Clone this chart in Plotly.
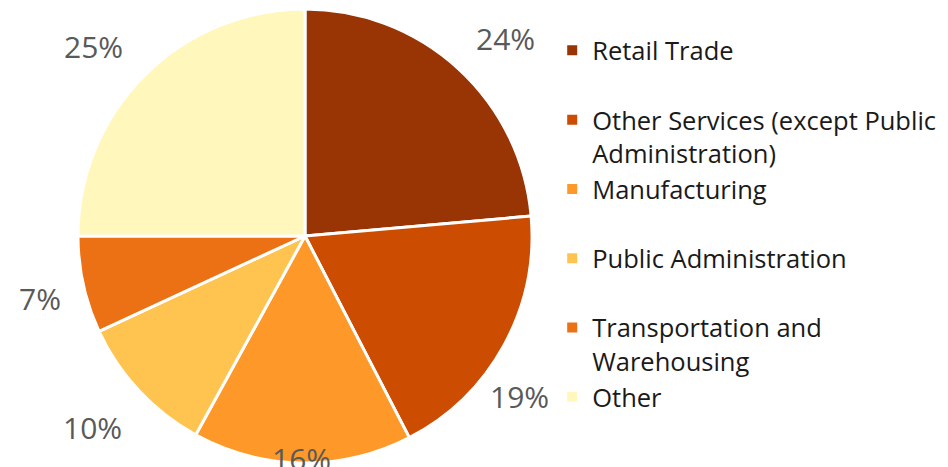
import math
import plotly.graph_objects as go

categories = ["Retail Trade", "Other Services (except Public<br>Administration)", "Manufacturing",
              "Public Administration", "Transportation and<br>Warehousing", "Other"]
values = [23.6, 18.8, 15.6, 10.1, 6.9, 25.0]
colors = ["#993404", "#CC4C02", "#FE9929", "#FEC44F", "#EC7014", "#FFF7BC"]

W, H = 948, 467
CX, CY, R = 305, 236, 227          # pie centre / radius in pixels
LABEL_GAP = 22                      # gap between pie edge and label corner (px)
label_nudge = [(2, 8), (-34, 19), (0, 0), (0, 0), (0, -13), (-5, 8)]  # px tweaks per label

# legend labels padded to two lines so every item gets the same slot height
legend_labels = [c if "<br>" in c else c + "<br> " for c in categories]

fig = go.Figure(go.Pie(
    labels=legend_labels,
    values=values,
    sort=False,
    direction="clockwise",
    rotation=0,
    marker=dict(colors=colors, line=dict(color="white", width=3)),
    textinfo="none",
    textposition="none",
    domain=dict(x=[(CX - R) / W, (CX + R) / W], y=[1 - (CY + R) / H, 1 - (CY - R) / H]),
    automargin=False,
    hoverinfo="label+percent",
))

total = sum(values)
cum = 0.0
for v, (nx, ny) in zip(values, label_nudge):
    mid = (cum + v / 2) / total * 2 * math.pi
    cum += v
    s, c = math.sin(mid), math.cos(mid)
    px = CX + (R + LABEL_GAP) * s + nx
    py = CY - (R + LABEL_GAP) * c + ny
    xa = "left" if s > 0.1 else ("right" if s < -0.1 else "center")
    ya = "bottom" if c > 0.1 else ("top" if c < -0.1 else "middle")
    if py > H - 20:
        py, ya = H - 9, "middle"
    fig.add_annotation(
        x=px / W, y=1 - py / H, xref="paper", yref="paper",
        text=f"{round(v / total * 100)}%", showarrow=False,
        xanchor=xa, yanchor=ya, borderpad=0,
        font=dict(size=30, color="#595959", family="Open Sans"),
    )

fig.update_layout(
    width=W, height=H,
    margin=dict(l=0, r=0, t=0, b=0),
    paper_bgcolor="white",
    plot_bgcolor="white",
    showlegend=True,
    legend=dict(
        x=0.5825, y=0.9416, xanchor="left", yanchor="top",
        font=dict(size=25.5, color="#1a1a1a", family="Open Sans"),
        valign="top",
        itemsizing="constant",
    ),
    font=dict(family="Open Sans"),
)

fig.write_html("out.html", config={"displayModeBar": False},
               post_script="document.body.style.margin='0';")
